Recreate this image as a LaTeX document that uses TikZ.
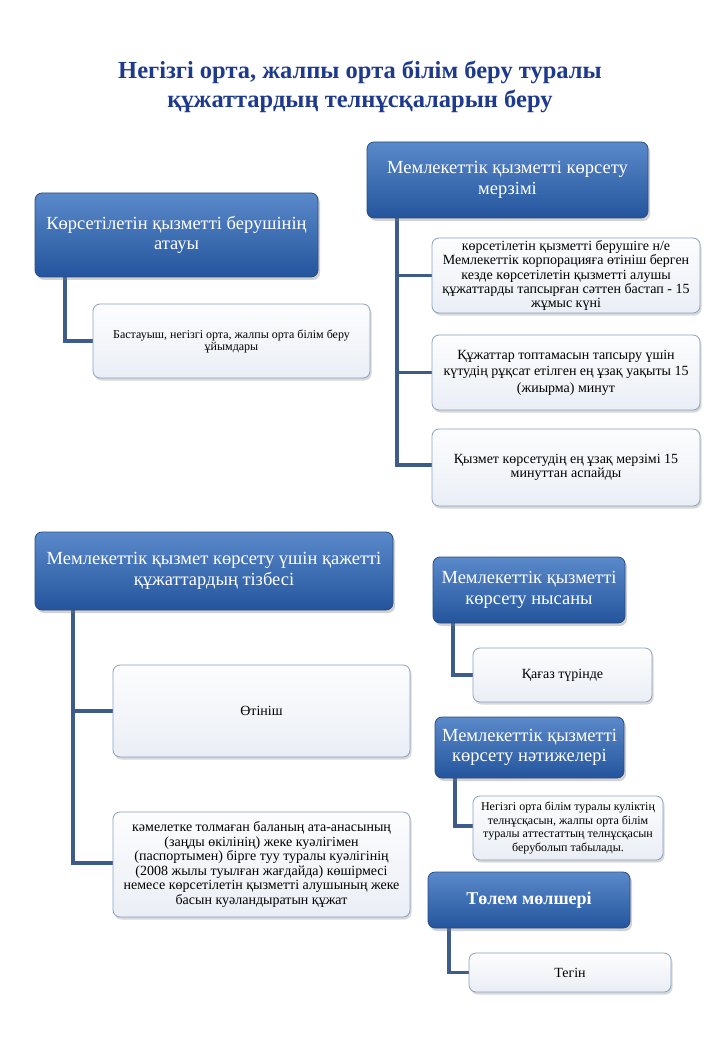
\documentclass[tikz,border=0pt]{standalone}
\usepackage{fontspec}
\setmainfont{Liberation Serif}
\usetikzlibrary{shadows}
\definecolor{hdrtop}{RGB}{90,138,202}
\definecolor{hdrbot}{RGB}{36,84,156}
\definecolor{hdredge}{RGB}{42,76,130}
\definecolor{ctop}{RGB}{253,253,254}
\definecolor{cbot}{RGB}{234,238,245}
\definecolor{cedge}{RGB}{138,160,195}
\definecolor{conncol}{RGB}{62,92,138}
\definecolor{titlecol}{RGB}{30,58,140}
\begin{document}
\begin{tikzpicture}[x=1pt,y=-1pt,
  hdr/.style={draw=hdredge, line width=0.8pt, rounded corners=7pt, top color=hdrtop, bottom color=hdrbot,
    text=white, align=center, inner sep=2pt,
    drop shadow={shadow xshift=2pt, shadow yshift=-3pt, opacity=0.35},
    font=\fontsize{18.5}{20.5}\selectfont},
  child/.style={draw=cedge, line width=0.8pt, rounded corners=7pt, top color=ctop, bottom color=cbot,
    text=black, align=center, inner sep=2pt,
    drop shadow={shadow xshift=1.5pt, shadow yshift=-2.5pt, opacity=0.3}},
  conn/.style={draw=conncol, line width=3.2pt}]
\fill[white] (0,0) rectangle (720,1040);
\useasboundingbox (0,0) rectangle (720,1040);

\node[font=\fontsize{24.5}{29}\selectfont\bfseries, text=titlecol, align=center] (title) at (360,87)
  {Негізгі орта, жалпы орта білім беру туралы\\құжаттардың телнұсқаларын беру};

% trunk coordinates
\coordinate (t1) at (65,0);
\coordinate (t2) at (397,0);
\coordinate (t3) at (73,0);
\coordinate (t4) at (453,0);
\coordinate (t5) at (455,0);
\coordinate (t6) at (449,0);

% invisible placeholders for connector geometry
\path (176.5,235) node[minimum width=283pt, minimum height=84pt] (h1p) {};
\path (507.5,180) node[minimum width=281pt, minimum height=76pt] (h2p) {};
\path (214,571) node[minimum width=358pt, minimum height=78pt] (h3p) {};
\path (529,590) node[minimum width=192pt, minimum height=66pt] (h4p) {};
\path (529.5,747.5) node[minimum width=189pt, minimum height=61pt] (h5p) {};
\path (529,900) node[minimum width=202pt, minimum height=56pt] (h6p) {};
\path (231.5,341) node[minimum width=277pt, minimum height=74pt] (c1p) {};
\path (566,275.5) node[minimum width=268pt, minimum height=75pt] (c2ap) {};
\path (566,372.5) node[minimum width=268pt, minimum height=75pt] (c2bp) {};
\path (566,465) node[minimum width=268pt, minimum height=77pt] (c2cp) {};
\path (261.5,711) node[minimum width=297pt, minimum height=92pt] (c3ap) {};
\path (261.5,863) node[minimum width=297pt, minimum height=105pt] (c3bp) {};
\path (562.5,675) node[minimum width=179pt, minimum height=54pt] (c4p) {};
\path (568,826) node[minimum width=190pt, minimum height=64pt] (c5p) {};
\path (570,972.5) node[minimum width=202pt, minimum height=39pt] (c6p) {};

% connectors
\draw[conn] (h1p.south -| t1) |- (c1p.west);
\draw[conn] (h2p.south -| t2) |- (c2cp.west);
\draw[conn] (t2 |- c2ap.west) -- (c2ap.west);
\draw[conn] (t2 |- c2bp.west) -- (c2bp.west);
\draw[conn] (h3p.south -| t3) |- (c3bp.west);
\draw[conn] (t3 |- c3ap.west) -- (c3ap.west);
\draw[conn] (h4p.south -| t4) |- (c4p.west);
\draw[conn] (h5p.south -| t5) |- (c5p.west);
\draw[conn] (h6p.south -| t6) |- (c6p.west);

% headers
\node[hdr, minimum width=283pt, minimum height=84pt] (h1) at (176.5,235)
  {Көрсетілетін қызметті берушінің\\атауы};
\node[hdr, minimum width=281pt, minimum height=76pt] (h2) at (507.5,180)
  {Мемлекеттік қызметті көрсету\\мерзімі};
\node[hdr, minimum width=358pt, minimum height=78pt] (h3) at (214,571)
  {Мемлекеттік қызмет көрсету үшін қажетті\\құжаттардың тізбесі};
\node[hdr, minimum width=192pt, minimum height=66pt] (h4) at (529,590)
  {Мемлекеттік қызметті\\көрсету нысаны};
\node[hdr, minimum width=189pt, minimum height=61pt] (h5) at (529.5,747.5)
  {Мемлекеттік қызметті\\көрсету нәтижелері};
\node[hdr, minimum width=202pt, minimum height=56pt, font=\fontsize{18}{21}\selectfont\bfseries] (h6) at (529,900)
  {Төлем мөлшері};

% children
\node[child, minimum width=277pt, minimum height=74pt, font=\fontsize{12}{12}\selectfont] (c1) at (231.5,341)
  {Бастауыш, негізгі орта, жалпы орта білім беру\\ұйымдары};
\node[child, minimum width=268pt, minimum height=75pt, font=\fontsize{14}{14.3}\selectfont] (c2a) at (566,275.5)
  {көрсетілетін қызметті берушіге н/е\\Мемлекеттік корпорацияға өтініш берген\\кезде көрсетілетін қызметті алушы\\құжаттарды тапсырған сәттен бастап - 15\\жұмыс күні};
\node[child, minimum width=268pt, minimum height=75pt, font=\fontsize{14}{16.5}\selectfont] (c2b) at (566,372.5)
  {Құжаттар топтамасын тапсыру үшін\\күтудің рұқсат етілген ең ұзақ уақыты 15\\(жиырма) минут};
\node[child, minimum width=268pt, minimum height=77pt, font=\fontsize{14}{14}\selectfont] (c2c) at (566,467.5)
  {Қызмет көрсетудің ең ұзақ мерзімі 15\\минуттан аспайды};
\node[child, minimum width=297pt, minimum height=92pt, font=\fontsize{14}{15}\selectfont] (c3a) at (261.5,711)
  {Өтініш};
\node[child, minimum width=297pt, minimum height=105pt, font=\fontsize{14}{14.6}\selectfont] (c3b) at (261.5,864.5)
  {кәмелетке толмаған баланың ата-анасының\\(заңды өкілінің) жеке куәлігімен\\(паспортымен) бірге туу туралы куәлігінің\\(2008 жылы туылған жағдайда) көшірмесі\\немесе көрсетілетін қызметті алушының жеке\\басын куәландыратын құжат};
\node[child, minimum width=179pt, minimum height=54pt, font=\fontsize{14}{15}\selectfont] (c4) at (562.5,675)
  {Қағаз түрінде};
\node[child, minimum width=190pt, minimum height=64pt, font=\fontsize{12}{13.5}\selectfont] (c5) at (568,828)
  {Негізгі орта білім туралы куліктің\\телнұсқасын, жалпы орта білім\\туралы аттестаттың  телнұсқасын\\беруболып табылады.};
\node[child, minimum width=202pt, minimum height=39pt, font=\fontsize{14}{15}\selectfont] (c6) at (570,972.5)
  {Тегін};
\end{tikzpicture}
\end{document}
